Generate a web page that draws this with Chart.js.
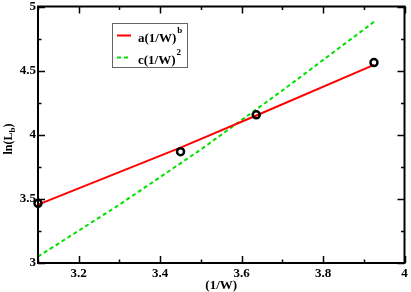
<!DOCTYPE html>
<html>
<head>
<meta charset="utf-8">
<script src="https://cdn.jsdelivr.net/npm/chart.js@4.4.0/dist/chart.umd.min.js"></script>
<style>
  html, body { margin: 0; padding: 0; background: #fff; }
  #wrap { width: 411px; height: 292px; }
</style>
</head>
<body>
<div id="wrap"><canvas id="c" width="411" height="292"></canvas></div>
<script>
// measured points
const wInv = [3.1, 3.45, 3.636, 3.925];
const lnLb = [3.465, 3.868, 4.155, 4.563];

// fit a(1/W)^b
const fitAX = [3.1, 3.45, 3.636, 3.925];
const fitAY = [3.455, 3.9, 4.15, 4.545];

// fit c(1/W)^2
const fitCX = [3.1, 3.3, 3.5, 3.7, 3.925];
const fitCY = [3.05, 3.455, 3.885, 4.345, 4.88];

const xRange = [3.1, 4];
const yRange = [3, 5];
const legendLabels = [["a(1/W)", "b"], ["c(1/W)", "2"]];
const xTitle = "(1/W)";
const yTitle = ["ln(L", "b", ")"];

const serif = "'Liberation Serif', 'DejaVu Serif', serif";

function pts(xs, ys) {
  return xs.map((x, i) => ({ x: x, y: ys[i] }));
}

// frame, inward ticks, titles, legend
const decor = {
  id: 'decor',
  afterDraw(chart) {
    const ctx = chart.ctx;
    const a = chart.chartArea;
    const xs = chart.scales.x, ys = chart.scales.y;
    ctx.save();
    ctx.strokeStyle = '#000';
    ctx.lineWidth = 1.5;

    xs.ticks.forEach(t => {
      const px = Math.round(xs.getPixelForValue(t.value)) + 0.5;
      const len = t.label !== '' ? 7 : 3.5;
      ctx.beginPath();
      ctx.moveTo(px, a.bottom); ctx.lineTo(px, a.bottom - len);
      ctx.moveTo(px, a.top); ctx.lineTo(px, a.top + len);
      ctx.stroke();
    });
    ys.ticks.forEach(t => {
      const py = Math.round(ys.getPixelForValue(t.value)) + 0.5;
      const len = t.label !== '' ? 7 : 3.5;
      ctx.beginPath();
      ctx.moveTo(a.left, py); ctx.lineTo(a.left + len, py);
      ctx.moveTo(a.right, py); ctx.lineTo(a.right - len, py);
      ctx.stroke();
    });

    ctx.lineWidth = 2;
    ctx.strokeRect(a.left, a.top, a.right - a.left, a.bottom - a.top);

    // x title
    ctx.fillStyle = '#000';
    ctx.font = 'bold 13px ' + serif;
    ctx.textAlign = 'center';
    ctx.textBaseline = 'alphabetic';
    ctx.fillText(xTitle, (a.left + a.right) / 2, 289);

    // y title, rotated, with subscript
    ctx.save();
    ctx.translate(12, 139);
    ctx.rotate(-Math.PI / 2);
    ctx.textAlign = 'left';
    ctx.font = 'bold 12px ' + serif;
    const w0 = ctx.measureText(yTitle[0]).width;
    ctx.font = 'bold 9px ' + serif;
    const w1 = ctx.measureText(yTitle[1]).width;
    ctx.font = 'bold 12px ' + serif;
    const w2 = ctx.measureText(yTitle[2]).width;
    let x0 = -(w0 + w1 + w2) / 2;
    ctx.fillText(yTitle[0], x0, 0);
    ctx.font = 'bold 9px ' + serif;
    ctx.fillText(yTitle[1], x0 + w0, 3);
    ctx.font = 'bold 12px ' + serif;
    ctx.fillText(yTitle[2], x0 + w0 + w1, 0);
    ctx.restore();

    // legend
    ctx.lineWidth = 1;
    ctx.strokeStyle = '#666';
    ctx.strokeRect(112.5, 23.5, 75, 44);
    const colors = ['#ff0000', '#00e000'];
    const dashes = [[], [4, 3]];
    const rows = [35.5, 57.5];
    legendLabels.forEach((lab, i) => {
      ctx.strokeStyle = colors[i];
      ctx.lineWidth = 2;
      ctx.setLineDash(dashes[i]);
      ctx.beginPath();
      ctx.moveTo(117, rows[i]); ctx.lineTo(131, rows[i]);
      ctx.stroke();
      ctx.setLineDash([]);
      ctx.fillStyle = '#000';
      ctx.textAlign = 'left';
      ctx.font = 'bold 13px ' + serif;
      ctx.fillText(lab[0], 138, rows[i] + 6);
      const w = ctx.measureText(lab[0]).width;
      ctx.font = 'bold 9px ' + serif;
      ctx.fillText(lab[1], 138 + w + 1, rows[i] - 3);
    });
    ctx.restore();
  }
};

new Chart(document.getElementById('c'), {
  type: 'scatter',
  data: {
    datasets: [
      {
        label: 'data',
        data: pts(wInv, lnLb),
        showLine: false,
        pointRadius: 3.5,
        pointBorderWidth: 2.5,
        pointBorderColor: '#000',
        pointBackgroundColor: 'rgba(255,255,255,0)',
        clip: false
      },
      {
        label: 'a(1/W)^b',
        data: pts(fitAX, fitAY),
        showLine: true,
        borderColor: '#ff0000',
        borderWidth: 2,
        pointRadius: 0,
        clip: false
      },
      {
        label: 'c(1/W)^2',
        data: pts(fitCX, fitCY),
        showLine: true,
        borderColor: '#00e000',
        borderWidth: 2,
        borderDash: [4, 3],
        pointRadius: 0,
        clip: false
      }
    ]
  },
  options: {
    responsive: false,
    animation: false,
    layout: { padding: { top: 5, right: 4, left: 0, bottom: 0 } },
    plugins: { legend: { display: false }, tooltip: { enabled: false } },
    scales: {
      x: {
        type: 'linear',
        min: xRange[0],
        max: xRange[1],
        grid: { display: false, drawTicks: false },
        border: { display: false },
        ticks: {
          stepSize: 0.1,
          padding: 3,
          maxRotation: 0,
          autoSkip: false,
          color: '#000',
          font: { family: serif, size: 13, weight: 'bold' },
          callback: v => (Math.round(v * 10) % 2 === 0 ? String(Math.round(v * 10) / 10) : '')
        },
        afterFit: s => { s.height = 29; s.paddingLeft = 0; s.paddingRight = 0; }
      },
      y: {
        type: 'linear',
        min: yRange[0],
        max: yRange[1],
        grid: { display: false, drawTicks: false },
        border: { display: false },
        ticks: {
          stepSize: 0.25,
          padding: 2,
          autoSkip: false,
          color: '#000',
          font: { family: serif, size: 13, weight: 'bold' },
          callback: v => (Math.round(v * 4) % 2 === 0 ? String(Math.round(v * 2) / 2) : '')
        },
        afterFit: s => { s.width = 38; s.paddingTop = 0; s.paddingBottom = 0; }
      }
    }
  },
  plugins: [decor]
});
</script>
</body>
</html>
